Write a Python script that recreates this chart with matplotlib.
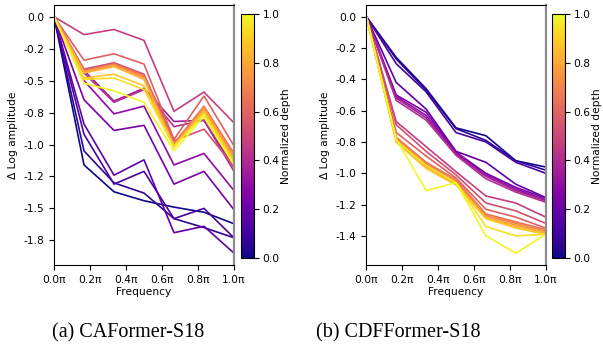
import numpy as np
import matplotlib.pyplot as plt
from matplotlib import cm
from matplotlib.colors import Normalize

FS = 7.7

# frequency bins, in units of pi
freqs = [0, 1/6, 2/6, 3/6, 4/6, 5/6, 1]

# delta log amplitude per block, shallow -> deep
caformer = [
    [0, -1.16, -1.37, -1.44, -1.49, -1.53, -1.62],
    [0, -1.05, -1.30, -1.38, -1.58, -1.65, -1.73],
    [0, -0.92, -1.31, -1.21, -1.58, -1.50, -1.73],
    [0, -0.84, -1.24, -1.12, -1.69, -1.64, -1.85],
    [0, -0.65, -0.89, -0.85, -1.31, -1.21, -1.51],
    [0, -0.50, -0.76, -0.70, -1.16, -1.07, -1.36],
    [0, -0.42, -0.66, -0.56, -0.82, -0.81, -1.18],
    [0, -0.44, -0.67, -0.57, -0.86, -0.81, -1.21],
    [0, -0.14, -0.10, -0.185, -0.74, -0.59, -0.83],
    [0, -0.41, -0.36, -0.45, -0.97, -0.88, -1.17],
    [0, -0.34, -0.29, -0.37, -0.96, -0.62, -1.01],
    [0, -0.42, -0.37, -0.46, -0.99, -0.70, -1.07],
    [0, -0.43, -0.375, -0.47, -1.00, -0.71, -1.09],
    [0, -0.43, -0.38, -0.48, -1.01, -0.72, -1.10],
    [0, -0.44, -0.39, -0.49, -1.02, -0.73, -1.12],
    [0, -0.48, -0.45, -0.54, -1.01, -0.75, -1.14],
    [0, -0.49, -0.48, -0.57, -1.02, -0.76, -1.15],
    [0, -0.52, -0.58, -0.67, -1.05, -0.78, -1.16],
]

cdfformer = [
    [0, -0.26, -0.46, -0.71, -0.76, -0.92, -0.96],
    [0, -0.27, -0.47, -0.715, -0.79, -0.92, -0.98],
    [0, -0.30, -0.48, -0.74, -0.80, -0.93, -1.00],
    [0, -0.42, -0.59, -0.86, -0.93, -1.07, -1.155],
    [0, -0.50, -0.61, -0.865, -1.00, -1.09, -1.16],
    [0, -0.51, -0.63, -0.87, -1.01, -1.10, -1.17],
    [0, -0.52, -0.645, -0.88, -1.02, -1.11, -1.175],
    [0, -0.535, -0.66, -0.885, -1.035, -1.12, -1.185],
    [0, -0.67, -0.83, -0.99, -1.145, -1.19, -1.28],
    [0, -0.69, -0.86, -1.01, -1.19, -1.24, -1.32],
    [0, -0.74, -0.89, -1.03, -1.23, -1.28, -1.35],
    [0, -0.77, -0.93, -1.04, -1.26, -1.31, -1.36],
    [0, -0.78, -0.94, -1.05, -1.27, -1.32, -1.37],
    [0, -0.79, -0.95, -1.06, -1.28, -1.33, -1.38],
    [0, -0.80, -0.96, -1.07, -1.285, -1.34, -1.38],
    [0, -0.80, -0.97, -1.075, -1.29, -1.35, -1.39],
    [0, -0.79, -0.95, -1.06, -1.34, -1.40, -1.39],
    [0, -0.78, -1.11, -1.06, -1.40, -1.51, -1.39],
]

captions = ['(a) CAFormer-S18', '(b) CDFFormer-S18']
xticks = [0, 0.2, 0.4, 0.6, 0.8, 1.0]

fig = plt.figure(figsize=(6.03, 3.5), dpi=100)
norm = Normalize(0, 1)
cmap = plt.get_cmap('plasma')


def draw_panel(ax, cax, curves, yticks):
    n = len(curves)
    for i, c in enumerate(curves):
        ax.plot(freqs, c, color=cmap(i / (n - 1)), lw=1.2)
    ax.set_xlim(0, 1)
    ax.set_xticks(xticks)
    ax.set_xticklabels(['%.1fπ' % t for t in xticks])
    ax.set_yticks(yticks)
    ax.set_yticklabels(['%.1f' % t if abs(t) > 1e-9 else '0.0' for t in yticks])
    ax.tick_params(labelsize=FS, width=0.8, length=3.5)
    ax.set_xlabel('Frequency', fontsize=FS, labelpad=2)
    ax.set_ylabel('Δ Log amplitude', fontsize=FS)
    ax.spines['right'].set_color('#8c8c8c')
    ax.spines['right'].set_linewidth(1.6)

    cb = fig.colorbar(cm.ScalarMappable(norm=norm, cmap=cmap), cax=cax)
    cb.set_ticks([0, 0.2, 0.4, 0.6, 0.8, 1.0])
    cb.ax.tick_params(labelsize=FS, width=0.8, length=3.5, pad=2.5)
    cb.set_label('Normalized depth', fontsize=FS, labelpad=1)


ax1 = fig.add_axes([0.0896, 0.243, 0.2984, 0.743])
cax1 = fig.add_axes([0.3997, 0.263, 0.0216, 0.697])
draw_panel(ax1, cax1, caformer, np.arange(0, -1.8, -0.25))

ax2 = fig.add_axes([0.6075, 0.243, 0.2975, 0.743])
cax2 = fig.add_axes([0.9154, 0.263, 0.0222, 0.697])
draw_panel(ax2, cax2, cdfformer, np.round(np.arange(0, -1.5, -0.2), 1))

fig.text(0.212, 0.05, captions[0], ha='center', va='center',
         fontsize=14.5, family='Liberation Serif')
fig.text(0.66, 0.05, captions[1], ha='center', va='center',
         fontsize=14.5, family='Liberation Serif')

fig.savefig('out.png', dpi=100)
